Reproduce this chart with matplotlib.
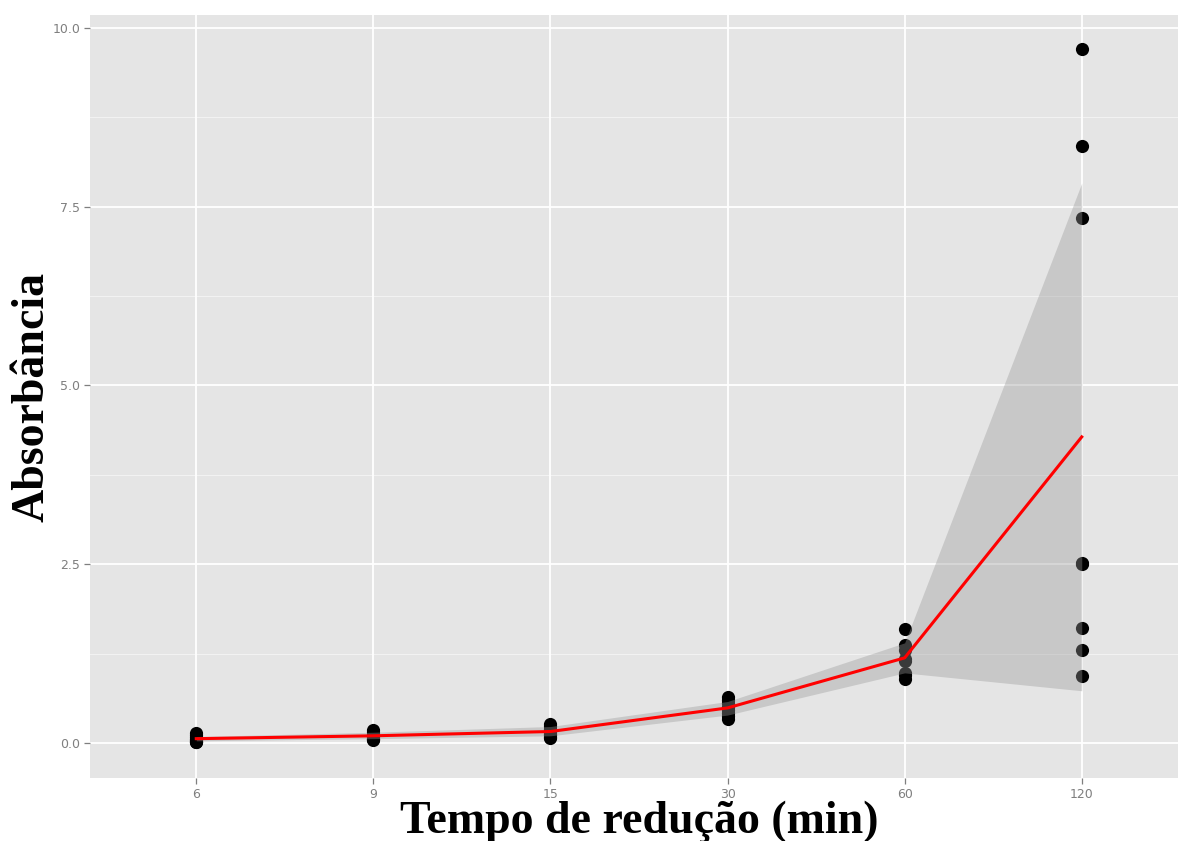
import matplotlib
matplotlib.use("Agg")
import matplotlib.pyplot as plt
import numpy as np

# ── dados ──
TEMPOS = ["6", "9", "15", "30", "60", "120"]
ABS_6 = [0.14, 0.11, 0.08, 0.06, 0.04, 0.03, 0.01, 0.01]
ABS_9 = [0.18, 0.16, 0.13, 0.10, 0.08, 0.06, 0.05, 0.04]
ABS_15 = [0.26, 0.24, 0.20, 0.16, 0.13, 0.11, 0.09, 0.07]
ABS_30 = [0.64, 0.60, 0.56, 0.50, 0.46, 0.42, 0.38, 0.34]
ABS_60 = [1.60, 1.37, 1.30, 1.18, 1.14, 0.98, 0.95, 0.90]
ABS_120 = [9.71, 8.35, 7.34, 2.52, 2.50, 1.61, 1.30, 0.94]
MEDIA = [0.06, 0.10, 0.16, 0.49, 1.19, 4.28]
FAIXA_INF = [0.03, 0.06, 0.10, 0.39, 0.98, 0.73]
FAIXA_SUP = [0.09, 0.15, 0.23, 0.58, 1.40, 7.83]
Y_TICKS = [0.0, 2.5, 5.0, 7.5, 10.0]
Y_MINOR = [1.25, 3.75, 6.25, 8.75]

grupos = [ABS_6, ABS_9, ABS_15, ABS_30, ABS_60, ABS_120]

fig = plt.figure(figsize=(11.78, 8.41), dpi=100)
ax = fig.add_axes([90 / 1178, 1 - 778 / 841, (1188 - 90) / 1178, (778 - 15) / 841])
ax.set_facecolor("#E5E5E5")

x = np.arange(len(TEMPOS))

# grade (estilo ggplot)
for yv in Y_MINOR:
    ax.axhline(yv, color="#F2F2F2", linewidth=0.8, zorder=0)
for yv in Y_TICKS:
    ax.axhline(yv, color="white", linewidth=1.3, zorder=0)
for xv in x:
    ax.axvline(xv, color="white", linewidth=1.3, zorder=0)

# pontos
for i, vals in enumerate(grupos):
    ax.scatter([x[i]] * len(vals), vals, s=90, color="black", linewidths=0, zorder=2)

# faixa e linha média
ax.fill_between(x, FAIXA_INF, FAIXA_SUP, color="#999999", alpha=0.38, linewidth=0, zorder=3)
ax.plot(x, MEDIA, color="#FF0000", linewidth=2.2, zorder=4)

ax.set_xlim(-0.6, 5.6)
ax.set_ylim(-0.49, 10.18)
ax.set_xticks(x)
ax.set_xticklabels(TEMPOS)
ax.set_yticks(Y_TICKS)
ax.set_yticklabels([f"{v:.1f}" for v in Y_TICKS])
ax.tick_params(axis="both", colors="#7F7F7F", labelcolor="#7F7F7F", labelsize=9,
               length=4, width=0.9, pad=3)

for spine in ax.spines.values():
    spine.set_visible(False)

titulo = dict(family=["Liberation Serif", "DejaVu Serif"], fontweight="bold", fontsize=33)
ax.set_xlabel("Tempo de redução (min)", labelpad=0, **titulo)
ax.set_ylabel("Absorbância", va="center", **titulo)
ax.yaxis.set_label_coords((33 - 90) / 1098, 0.5)

fig.savefig("out.png", dpi=100)
